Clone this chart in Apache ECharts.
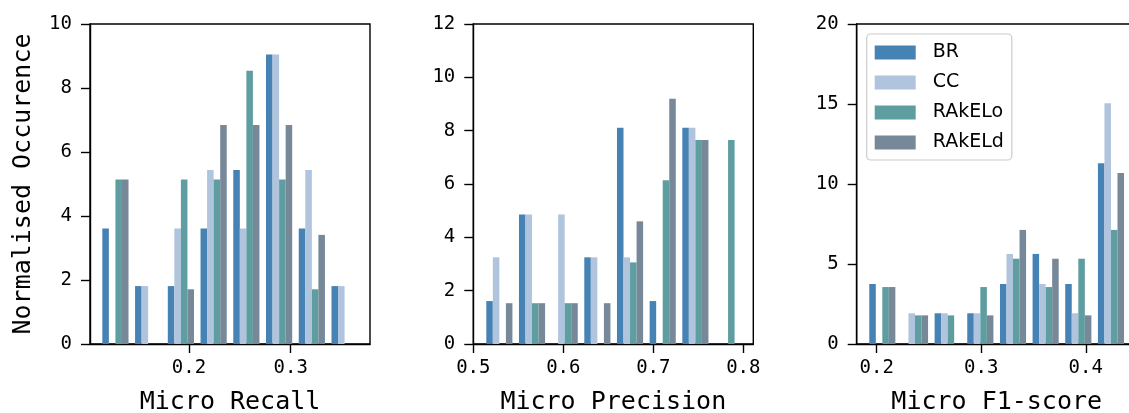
<!DOCTYPE html>
<html>
<head>
<meta charset="utf-8">
<script src="https://cdn.jsdelivr.net/npm/echarts@6/dist/echarts.min.js"></script>
<style>
html, body { margin: 0; padding: 0; background: #fff; overflow: hidden; }
#main { width: 1129px; height: 413px; }
</style>
</head>
<body>
<div id="main"></div>
<script>
var myChart = echarts.init(document.getElementById('main'));

var methods = ['BR', 'CC', 'RAkELo', 'RAkELd'];
var colors = ['#4682b4', '#b0c4de', '#5f9ea0', '#778899'];

// bin edges of each histogram
var recallEdges = [0.1115, 0.1437, 0.1759, 0.2081, 0.2403, 0.2725, 0.3047, 0.3369, 0.3691];
var precisionEdges = [0.5108, 0.5471, 0.5834, 0.6197, 0.6560, 0.6923, 0.7286, 0.7649, 0.8012];
var f1Edges = [0.1898, 0.2210, 0.2523, 0.2835, 0.3148, 0.3460, 0.3772, 0.4085, 0.4397];

// normalised occurence per bin, one row per method
var recallBR     = [3.61, 1.81, 1.81, 3.61, 5.44, 9.05, 3.61, 1.81];
var recallCC     = [0,    1.81, 3.61, 5.44, 3.61, 9.05, 5.44, 1.81];
var recallRAkELo = [5.14, 0,    5.14, 5.14, 8.54, 5.14, 1.71, 0];
var recallRAkELd = [5.14, 0,    1.71, 6.84, 6.84, 6.84, 3.41, 0];

var precisionBR     = [1.61, 4.86, 0,    3.25, 8.11, 1.61, 8.11, 0];
var precisionCC     = [3.25, 4.86, 4.86, 3.25, 3.25, 0,    8.11, 0];
var precisionRAkELo = [0,    1.53, 1.53, 0,    3.06, 6.14, 7.65, 7.65];
var precisionRAkELd = [1.53, 1.53, 1.53, 1.53, 4.60, 9.20, 7.65, 0];

var f1BR     = [3.75, 0,    1.92, 1.92, 3.75, 5.63, 3.75, 11.29];
var f1CC     = [0,    1.92, 1.92, 1.92, 5.63, 3.75, 1.92, 15.04];
var f1RAkELo = [3.56, 1.79, 1.79, 3.56, 5.33, 3.56, 5.33, 7.13];
var f1RAkELd = [3.56, 1.79, 0,    1.79, 7.13, 5.33, 1.79, 10.69];

var xTicks = [[0.2, 0.3], [0.5, 0.6, 0.7, 0.8], [0.2, 0.3, 0.4]];
var xNames = ['Micro Recall', 'Micro Precision', 'Micro F1-score'];

var panels = [
    { edges: recallEdges, values: [recallBR, recallCC, recallRAkELo, recallRAkELd] },
    { edges: precisionEdges, values: [precisionBR, precisionCC, precisionRAkELo, precisionRAkELd] },
    { edges: f1Edges, values: [f1BR, f1CC, f1RAkELo, f1RAkELd] }
];

var mono = 'DejaVu Sans Mono';
var black = '#000';

var binData = function (edges, vals) {
    var res = [];
    for (var i = 0; i < vals.length; i++) {
        res.push([edges[i], edges[i + 1], vals[i]]);
    }
    return res;
};

// matplotlib style: 4 bars share 80% of a bin
var makeRender = function (k, color) {
    return function (params, api) {
        var l = api.value(0), r = api.value(1), h = api.value(2);
        var w = r - l;
        var x0 = l + (0.1 + 0.2 * k) * w;
        var p0 = api.coord([x0, h]);
        var p1 = api.coord([x0 + 0.2 * w, 0]);
        return {
            type: 'rect',
            shape: { x: p0[0], y: p0[1], width: p1[0] - p0[0], height: p1[1] - p0[1] },
            style: { fill: color }
        };
    };
};

var grids = [
    { left: 90, top: 24, width: 280, height: 320 },
    { left: 473.3, top: 24, width: 280, height: 320 },
    { left: 856.7, top: 24, width: 280, height: 320 }
];
grids.forEach(function (g) {
    g.show = true;
    g.borderColor = black;
    g.borderWidth = 1.4;
    g.backgroundColor = 'transparent';
    g.containLabel = false;
    g.outerBoundsMode = 'none';
});

var xRanges = [[0.1026, 0.378], [0.5, 0.8111], [0.1809, 0.4487]];
var yRanges = [[0, 10, 2], [0, 12, 2], [0, 20, 5]];

var xAxes = [], yAxes = [], series = [];
for (var p = 0; p < 3; p++) {
    xAxes.push({
        type: 'value',
        gridIndex: p,
        min: xRanges[p][0],
        max: xRanges[p][1],
        name: xNames[p],
        nameLocation: 'middle',
        nameGap: 46,
        nameTextStyle: { fontFamily: mono, fontSize: 25, color: black },
        splitLine: { show: false },
        axisLine: { show: true, lineStyle: { color: black, width: 1.4 } },
        axisTick: { show: true, length: 9, lineStyle: { color: black, width: 1.4 }, customValues: xTicks[p] },
        axisLabel: { margin: 15, fontFamily: mono, fontSize: 19, color: black, customValues: xTicks[p],
            formatter: function (v) { return v.toFixed(1); } }
    });
    yAxes.push({
        type: 'value',
        gridIndex: p,
        min: yRanges[p][0],
        max: yRanges[p][1],
        interval: yRanges[p][2],
        name: p === 0 ? 'Normalised Occurence' : '',
        nameLocation: 'middle',
        nameGap: 54,
        nameTextStyle: { fontFamily: mono, fontSize: 25, color: black },
        splitLine: { show: false },
        axisLine: { show: true, lineStyle: { color: black, width: 1.4 } },
        axisTick: { show: true, length: 9, lineStyle: { color: black, width: 1.4 } },
        axisLabel: { margin: 18, fontFamily: mono, fontSize: 19, color: black }
    });
    for (var k = 0; k < 4; k++) {
        series.push({
            name: methods[k],
            type: 'custom',
            xAxisIndex: p,
            yAxisIndex: p,
            clip: true,
            itemStyle: { color: colors[k] },
            renderItem: makeRender(k, colors[k]),
            encode: { x: [0, 1], y: 2 },
            data: binData(panels[p].edges, panels[p].values[k])
        });
    }
}

option = {
    animation: false,
    backgroundColor: '#fff',
    legend: {
        left: 866.7,
        top: 34,
        orient: 'vertical',
        data: methods.map(function (m, i) {
            return { name: m, icon: 'rect', itemStyle: { color: colors[i] } };
        }),
        itemWidth: 41,
        itemHeight: 14,
        itemGap: 11,
        padding: [9, 8, 8, 8],
        backgroundColor: 'rgba(255,255,255,0.8)',
        borderColor: '#cccccc',
        borderWidth: 1.2,
        borderRadius: 4,
        selectedMode: false,
        textStyle: { fontFamily: 'DejaVu Sans', fontSize: 19, color: black, lineHeight: 19, padding: [0, 0, 0, 12] }
    },
    grid: grids,
    xAxis: xAxes,
    yAxis: yAxes,
    series: series
};

myChart.setOption(option);
</script>
</body>
</html>
